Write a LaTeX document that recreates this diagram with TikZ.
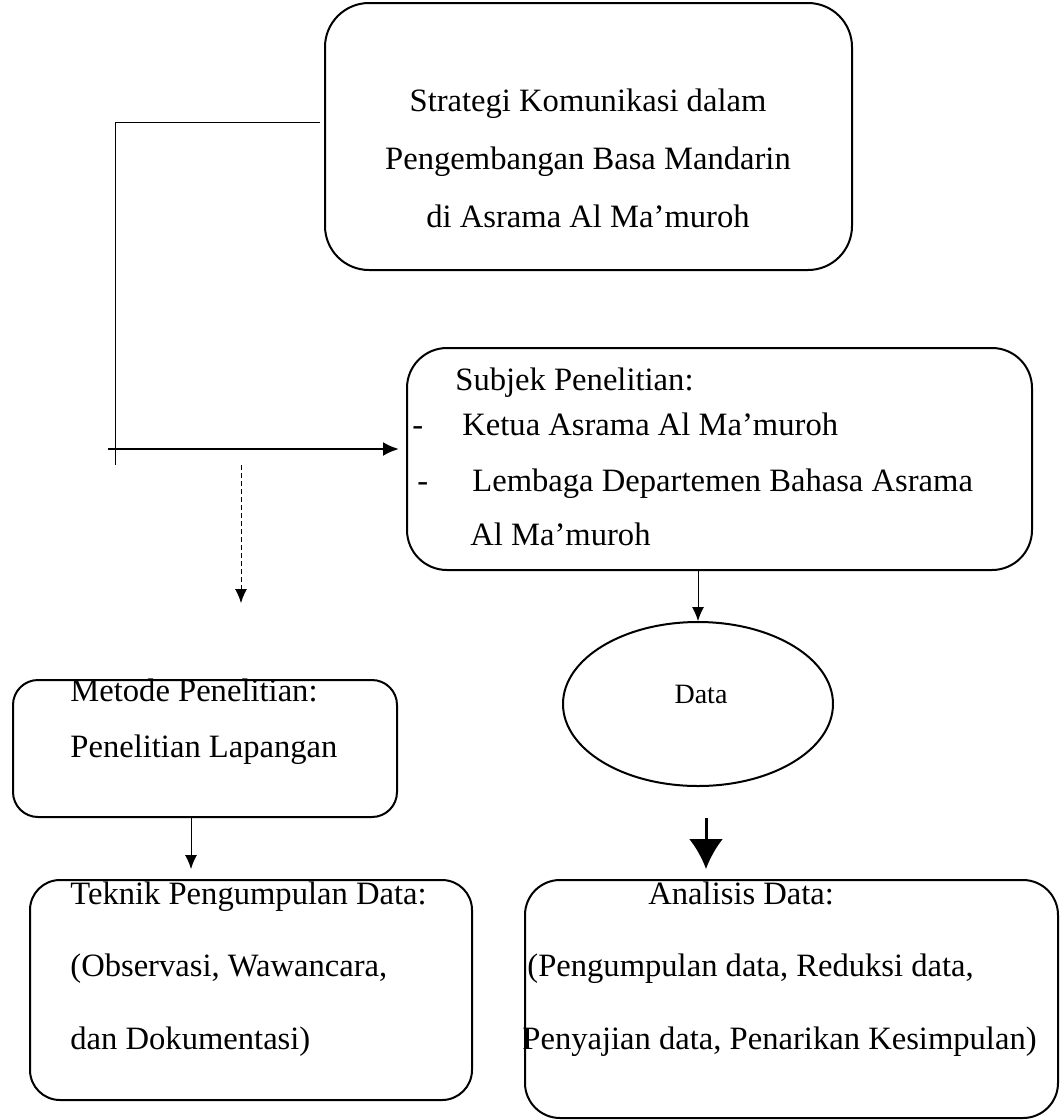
\documentclass[tikz,border=0pt]{standalone}
\usepackage{fontspec}
\setmainfont{Liberation Serif}
\usetikzlibrary{shapes.geometric,arrows.meta}
\begin{document}
\begin{tikzpicture}[x=0.5pt,y=-0.5pt]
    \tikzstyle{rbox}=[draw, line width=1pt, inner sep=0pt]
    \tikzstyle{txt}=[anchor=base west, inner sep=0pt]
    \tikzstyle{tline}=[line width=0.5pt]
    \tikzstyle{marr}=[line width=0.5pt,-{Latex[length=7pt,width=6pt]}]
    \tikzstyle{harr}=[line width=1.2pt,-{Latex[length=8pt,width=7pt]}]
    \tikzstyle{barr}=[line width=1.5pt,-{Latex[length=15pt,width=17pt]}]
    \def\sela{3.5pt}

    \fontsize{16.3}{19}\selectfont

    \useasboundingbox (0,0) rectangle (1061,1120);

    \node[rbox, rounded corners=22pt, minimum width=263.5pt, minimum height=133.5pt] (judul) at (588.5,136.5) {};
    \node[rbox, rounded corners=20pt, minimum width=312.5pt, minimum height=111pt] (subjek) at (719.5,459) {};
    \node[rbox, ellipse, minimum width=135pt, minimum height=82pt] (data) at (698,704) {};
    \node[rbox, rounded corners=12.5pt, minimum width=192pt, minimum height=68.5pt] (metode) at (205,748.5) {};
    \node[rbox, rounded corners=15pt, minimum width=221pt, minimum height=110pt] (teknik) at (251,990) {};
    \node[rbox, rounded corners=17.5pt, minimum width=266.5pt, minimum height=119pt] (analisis) at (791.5,999) {};

    \node[txt, anchor=base] (judul1) at (588,111) {Strategi Komunikasi dalam};
    \node[txt, anchor=base] (judul2) at (588,169) {Pengembangan Basa Mandarin};
    \node[txt, anchor=base] (judul3) at (588,227) {di Asrama Al Ma’muroh};

    \node[txt] (subjek1) at (455,390) {Subjek Penelitian:};
    \node[txt] (strip1) at (412,435) {-};
    \node[txt] (subjek2) at (462,435) {Ketua Asrama Al Ma’muroh};
    \node[txt] (strip2) at (417,491) {-};
    \node[txt] (subjek3) at (472,491) {Lembaga Departemen Bahasa Asrama};
    \node[txt] (subjek4) at (470,545) {Al Ma’muroh};

    \node[txt, anchor=base, font=\fontsize{14}{16}\selectfont] (datatxt) at (701,703) {Data};

    \node[txt] (metode1) at (70,701) {Metode Penelitian:};
    \node[txt] (metode2) at (70,757) {Penelitian Lapangan};

    \node[txt] (teknik1) at (70,904) {Teknik Pengumpulan Data:};
    \node[txt] (teknik2) at (70,976) {(Observasi, Wawancara,};
    \node[txt] (teknik3) at (70,1049) {dan Dokumentasi)};

    \node[txt] (analisis1) at (648,904) {Analisis Data:};
    \node[txt] (analisis2) at (527,976) {(Pengumpulan data, Reduksi data,};
    \node[txt] (analisis3) at (522,1049) {Penyajian data, Penarikan Kesimpulan)};

    \coordinate (awal) at (320,122);
    \coordinate (sudut) at (115,122);
    \coordinate (ujung) at (115,465);
    \coordinate (pangkal) at (108,449);
    \coordinate (putus) at (241,465);
    \coordinate (putusujung) at (241,603);
    \coordinate (tebal) at (706,818);
    \coordinate (turun) at (191,817);

    \draw[tline] (awal) -- (sudut) -- (ujung);
    \draw[harr, shorten >=\sela] (pangkal) -- (pangkal -| subjek.west);
    \draw[marr, dash pattern=on 2.5pt off 1.5pt] (putus) -- (putusujung);
    \draw[marr] (data.north |- subjek.south) -- (data.north);
    \draw[barr, shorten >=5pt] (tebal) -- (tebal |- analisis.north);
    \draw[marr, shorten >=5pt] (turun) -- (turun |- teknik.north);
\end{tikzpicture}
\end{document}
